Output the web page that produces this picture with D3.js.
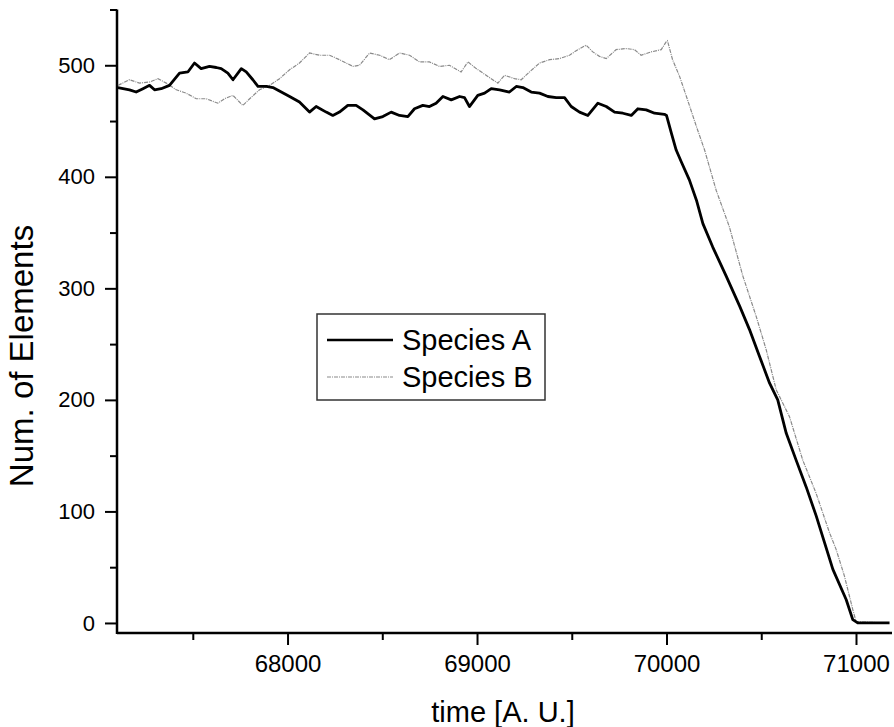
<!DOCTYPE html>
<html>
<head>
<meta charset="utf-8">
<script src="https://cdn.jsdelivr.net/npm/d3@7"></script>
<style>
  body { margin: 0; background: #fff; }
  text { font-family: "Liberation Sans", Arial, sans-serif; fill: #000; }
</style>
</head>
<body>
<script>
// values
var timeA = [67105,67166,67201,67237,67272,67298,67333,67377,67430,67474,67509,67544,67588,67624,67650,67685,67712,67756,67782,67817,67844,67888,67923,67967,68011,68063,68116,68151,68204,68239,68274,68318,68362,68398,68459,68503,68547,
  68591,68635,68670,68714,68749,68784,68820,68864,68908,68934,68960,69004,69040,69075,69119,69171,69207,69242,69286,69330,69374,69418,69462,69497,69541,69585,69638,69682,69726,69770,69814,69849,69893,69937,69989,
  70000,70026,70051,70079,70121,70158,70192,70244,70315,70386,70438,70491,70544,70587,70632,70684,70737,70790,70834,70878,70948,70983,71009,71177];
var speciesA = [480,478,476,479,482,478,479,482,493,494,502,497,499,498,497,493,487,497,494,487,481,481,480,476,472,467,458,463,458,455,458,464,464,460,452,454,458,
  455,454,461,464,463,466,472,469,472,471,463,473,475,479,478,476,481,480,476,475,472,471,471,463,458,455,466,463,458,457,455,461,460,457,456,
  455,439,424,413,397,379,358,337,311,284,263,239,215,200,170,146,122,96,72,48,21,3,0,0];

var timeB = [67105,67166,67219,67272,67316,67360,67413,67465,67518,67571,67632,67668,67712,67764,67800,67852,67905,67958,68011,68063,68116,68169,68222,68274,68345,68380,68433,68486,68538,
  68591,68644,68697,68749,68802,68855,68916,68952,68996,69057,69110,69145,69198,69233,69277,69330,69383,69435,69488,69532,69576,69611,69646,69682,69734,69787,69831,69866,69919,69972,69998,
  70005,70032,70069,70111,70158,70201,70262,70332,70403,70473,70526,70579,70649,70719,70790,70860,70895,70939,70983,71001,71177];
var speciesB = [482,487,484,485,488,484,478,475,470,470,466,470,473,464,470,478,482,488,496,502,511,509,509,505,499,500,511,509,505,
  511,509,503,503,499,500,494,503,497,490,484,491,488,487,494,502,505,506,509,514,518,512,508,506,514,515,514,509,512,514,521,
  522,505,490,469,445,424,388,355,311,275,245,209,185,146,116,81,66,42,12,1,0];

var xMajor = [68000, 69000, 70000, 71000];
var xMinor = [67500, 68500, 69500, 70500];
var yMajor = [0, 100, 200, 300, 400, 500];
var yMinor = [50, 150, 250, 350, 450, 550];
var seriesNames = ["Species A", "Species B"];

var width = 894, height = 727;

var svg = d3.select("body").append("svg")
    .attr("width", width)
    .attr("height", height);

var x = d3.scaleLinear().domain([67100, 71190]).range([117, 892]);
var y = d3.scaleLinear().domain([-9, 550]).range([633, 9.5]);

// minor ticks first, no labels
svg.append("g")
    .attr("transform", "translate(0,633)")
    .call(d3.axisBottom(x).tickValues(xMinor).tickSize(7).tickFormat(""));
svg.append("g")
    .attr("transform", "translate(117,0)")
    .call(d3.axisLeft(y).tickValues(yMinor).tickSize(7).tickFormat(""));

var xAxis = svg.append("g")
    .attr("transform", "translate(0,633)")
    .call(d3.axisBottom(x).tickValues(xMajor).tickSize(12).tickSizeOuter(0).tickPadding(10).tickFormat(d3.format("d")));
xAxis.selectAll("text").style("font-size", "24px").attr("dy", "0.71em");

var yAxis = svg.append("g")
    .attr("transform", "translate(117,0)")
    .call(d3.axisLeft(y).tickValues(yMajor).tickSize(12).tickSizeOuter(0).tickPadding(10));
yAxis.selectAll("text").style("font-size", "22px");

svg.selectAll(".domain").remove();
svg.selectAll(".tick line").attr("stroke", "#000").attr("stroke-width", 2);
svg.selectAll(".tick text").style("font-family", "'Liberation Sans', Arial, sans-serif");

// axis lines
svg.append("line").attr("x1", 117).attr("x2", 892).attr("y1", 633).attr("y2", 633)
    .attr("stroke", "#000").attr("stroke-width", 2.5);
svg.append("line").attr("x1", 117).attr("x2", 117).attr("y1", 9.5).attr("y2", 634)
    .attr("stroke", "#000").attr("stroke-width", 2.5);

var lineA = d3.line().x(function (d, i) { return x(timeA[i]); }).y(function (d) { return y(d); });
var lineB = d3.line().x(function (d, i) { return x(timeB[i]); }).y(function (d) { return y(d); });

svg.append("path")
    .attr("d", lineB(speciesB))
    .attr("fill", "none")
    .attr("stroke", "#8a8a8a")
    .attr("stroke-width", 1.2)
    .attr("stroke-dasharray", "4,1,1,1");

svg.append("path")
    .attr("d", lineA(speciesA))
    .attr("fill", "none")
    .attr("stroke", "#000")
    .attr("stroke-width", 2.8)
    .attr("stroke-linejoin", "round");

// axis titles
svg.append("text")
    .attr("x", 503).attr("y", 722)
    .attr("text-anchor", "middle")
    .style("font-size", "29px")
    .text("time [A. U.]");

svg.append("text")
    .attr("transform", "translate(33,356) rotate(-90)")
    .attr("text-anchor", "middle")
    .style("font-size", "33px")
    .text("Num. of Elements");

// legend
var legend = svg.append("g");
legend.append("rect")
    .attr("x", 317).attr("y", 314)
    .attr("width", 228).attr("height", 86)
    .attr("fill", "#fff")
    .attr("stroke", "#333")
    .attr("stroke-width", 1.5);

legend.append("line").attr("x1", 327).attr("x2", 393).attr("y1", 340).attr("y2", 340)
    .attr("stroke", "#000").attr("stroke-width", 2.6);
legend.append("line").attr("x1", 327).attr("x2", 393).attr("y1", 377).attr("y2", 377)
    .attr("stroke", "#8a8a8a").attr("stroke-width", 1.2).attr("stroke-dasharray", "4,1,1,1");

legend.selectAll("text.lg")
    .data(seriesNames)
    .enter().append("text")
    .attr("class", "lg")
    .attr("x", 402)
    .attr("y", function (d, i) { return 350 + i * 36.7; })
    .style("font-size", "29px")
    .text(function (d) { return d; });
</script>
</body>
</html>
